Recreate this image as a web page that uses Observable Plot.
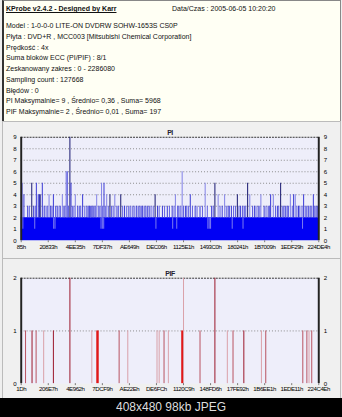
<!DOCTYPE html>
<html><head><meta charset="utf-8">
<script src="https://cdn.jsdelivr.net/npm/d3@7"></script>
<script src="https://cdn.jsdelivr.net/npm/@observablehq/plot@0.6"></script>
<style>
html,body{margin:0;padding:0;}
body{width:342px;height:417px;background:#efefef;position:relative;overflow:hidden;font-family:"Liberation Sans",Arial,sans-serif;}
#hdr{position:absolute;left:2px;top:0;width:336px;height:120px;background:#fffff4;border:1px solid #888;border-left:2px solid #333;}
.ln{position:absolute;font-size:7px;line-height:8px;white-space:nowrap;color:#111;}
.pan{position:absolute;left:2px;width:337px;border:1px solid #bbb;background:#f0f0f0;}
.pan svg{position:absolute;left:-2px;top:0;}
#foot{position:absolute;left:0;top:398px;width:342px;height:19px;background:#000;color:#ddd;font-size:12px;line-height:19px;text-align:center;}
</style></head>
<body>
<div id="hdr"></div>
<div class="pan" id="p1" style="top:121px;height:136px;"></div>
<div class="pan" id="p2" style="top:258px;height:139px;"></div>
<div id="foot"></div>
<script>
// ---- header info ----
const titleText = "KProbe v2.4.2 - Designed by Karr";
const dateText = "Data/Czas : 2005-06-05 10:20:20";
const infoLines = [
  "Model : 1-0-0-0 LITE-ON DVDRW SOHW-1653S CS0P",
  "Płyta : DVD+R , MCC003 [Mitsubishi Chemical Corporation]",
  "Prędkość : 4x",
  "Suma bloków ECC (PI/PIF) : 8/1",
  "Zeskanowany zakres : 0 - 2286080",
  "Sampling count : 127668",
  "Błędów : 0",
  "PI Maksymalnie= 9 , Średnio= 0,36 , Suma= 5968",
  "PIF Maksymalnie= 2 , Średnio= 0,01 , Suma= 197"
];
const footText = "408x480 98kb JPEG";

// ---- axis tick labels ----
const piTicks = ["85h","20833h","4EE35h","7DF37h","AE649h","DEC06h","1125E1h","1493C0h","180241h","1B7009h","1EDF29h","224DE4h"];
const pifTicks = ["1Dh","206E7h","4E962h","7DCF9h","AE22Eh","DE6FCh","1120C9h","148FD6h","17FE92h","1B6EE1h","1EDE11h","224C4Eh"];

// ---- PI data (position in tick-interval units 0..11) ----
const piBaseLevel = 2;
const piDipPos = [0.06, 0.5, 1.2, 1.25, 2.95, 3.0, 3.05, 4.98, 5.6, 5.75, 6.9, 6.95, 7.0, 7.8, 8.2, 10.4];
const piSpikePos = [0.04,0.10,0.24,0.39,0.46,0.56,0.63,0.68,0.70,0.78,0.85,1.03,1.09,1.19,1.33,1.52,1.58,1.66,1.70,1.80,1.84,2.00,2.09,2.27,2.43,2.52,2.61,2.69,2.79,2.91,2.97,3.06,3.16,3.28,3.46,3.54,3.68,3.82,3.98,4.13,4.27,4.39,4.49,4.61,4.73,4.95,5.04,5.22,5.40,5.58,5.70,5.83,5.95,6.07,6.25,6.43,6.61,6.80,7.04,7.16,7.28,7.43,7.52,7.65,7.77,7.99,8.11,8.19,8.37,8.45,8.62,8.76,8.86,8.98,9.13,9.22,9.32,9.47,9.59,9.71,9.83,9.95,10.07,10.13,10.25,10.44,10.56,10.68,10.80,10.90];
const piSpikeVal = [5,4,3,5,3,5,4,4,4,5,3,4,3,4,3,4,3,6,6,9,5,4,3,4,3,3,3,3,4,3,5,5,4,4,4,3,4,3,3,3,3,3,3,3,3,4,3,3,3,3,4,3,6,3,4,3,3,5,3,5,4,3,4,3,3,4,3,3,5,4,3,3,4,3,3,4,4,3,5,3,3,4,4,4,3,4,3,3,4,3];
const piSpikeTone = "lmmdmmmmdmmlmmmlmlmdmlmmmmmmlmlmldlmdmmmmmmmmdmmmmlmlmmmmlmdlmlmmdmmdlmmlmmmlmdmmlmlmmmmm";
const piSmallPos = [0.30,0.52,0.92,0.98,1.14,1.27,1.40,1.45,1.62,1.75,1.90,1.95,2.15,2.20,2.35,2.48,2.56,2.65,2.74,2.85,3.01,3.11,3.22,3.34,3.40,3.60,3.75,3.90,4.05,4.20,4.33,4.44,4.55,4.67,4.80,4.88,5.10,5.30,5.48,5.65,5.78,5.90,6.00,6.12,6.18,6.33,6.50,6.70,6.88,7.10,7.35,7.58,7.70,7.85,7.92,8.05,8.25,8.30,8.55,8.68,8.82,9.05,9.18,9.40,9.52,9.65,9.77,9.88,10.02,10.19,10.30,10.38,10.50,10.62,10.74,10.85,10.95];
const piSmallVal = 3;

// ---- PIF data ----
const pifPos = [0.16,0.40,0.55,0.83,1.19,1.80,2.61,2.82,3.62,3.94,5.02,5.10,5.28,5.44,5.96,6.00,6.61,7.16,7.62,7.83,8.23,8.88,9.04,10.41,10.56,10.64,10.74];
const pifVal = [1,1,1,1,1,2,1,1,1,1,1,1,1,1,1,2,1,2,1,1,1,1,1,1,1,1,1];
const pifTone = "mdmlddlbmlllmlblmdlmdlmmmlm";

// ---- build header ----
const hdr = document.getElementById("hdr");
function addLine(txt, x, y, extra){
  const d = document.createElement("div");
  d.className = "ln"; d.textContent = txt;
  d.style.left = x + "px"; d.style.top = (y - 4) + "px";
  if (extra) Object.assign(d.style, extra);
  hdr.appendChild(d);
}
addLine(titleText, 2, 8, {fontWeight:"bold", textDecoration:"underline"});
addLine(dateText, 168, 8);
infoLines.forEach((t, i) => addLine(t, 2, 25 + i * 10.75));
document.getElementById("foot").textContent = footText;

// ---- charts ----
const toneBlue = {l:"#8080e6", m:"#3838d4", d:"#14146e"};
const toneRed = {l:"#d9a0a8", m:"#b8505e", d:"#9a1428", b:"#e01818"};
const toneRedW = {l:1, m:1, d:1, b:2.5};
const tickFont = "'Liberation Sans', Arial, sans-serif";

function chart({h, mt, mb, ymax, ticks, title, dataMarks}){
  return Plot.plot({
    width: 342, height: h,
    marginLeft: 20, marginRight: 20, marginTop: mt, marginBottom: mb,
    style: {background: "transparent", fontFamily: tickFont, fontSize: "6.2px", letterSpacing: "-0.45px", color: "#000", overflow: "visible"},
    x: {domain: [0, 11], axis: null},
    y: {domain: [0, ymax], axis: null},
    marks: [
      Plot.frame({fill: "#eeeefa", stroke: null}),
      Plot.ruleY(d3.range(1, ymax), {stroke: "#8a8a8a", strokeDasharray: "1,2"}),
      Plot.ruleY([ymax], {stroke: "#333", strokeDasharray: "2,1"}),
      ...dataMarks,
      Plot.ruleX([0], {stroke: "#222", strokeWidth: 2}),
      Plot.ruleX([11], {stroke: "#222", strokeWidth: 2}),
      Plot.axisX({ticks: d3.range(12), tickFormat: i => ticks[i], tickSize: 2, tickPadding: 1.5, fontSize: 6.2, stroke: "#777", fill: "#000", label: null}),
      Plot.axisY({anchor: "left", ticks: d3.range(ymax + 1), tickFormat: d => d, tickSize: 0, tickPadding: 5, fontSize: 6.2, fill: "#000", label: null}),
      Plot.axisY({anchor: "right", ticks: d3.range(ymax + 1), tickFormat: d => d, tickSize: 0, tickPadding: 5, fontSize: 6.2, fill: "#000", label: null}),
      Plot.text([title], {frameAnchor: "top", dy: -7, fontWeight: "bold", fontSize: 7, fill: "#223"})
    ]
  });
}

const piSpikes = piSpikePos.map((p, i) => ({x: p, y: piSpikeVal[i], t: piSpikeTone[i] || "m"}));
const piSmall = piSmallPos.map(p => ({x: p, y: piSmallVal}));
const piDips = piDipPos.map(p => ({x: p}));
const pi = chart({
  h: 136, mt: 15, mb: 16, ymax: 9, ticks: piTicks, title: "PI",
  dataMarks: [
    Plot.rectY([{x1: 0, x2: 11, y: piBaseLevel}], {x1: "x1", x2: "x2", y: "y", fill: "#0000f4"}),
    Plot.ruleX(piDips, {x: "x", y1: 1, y2: piBaseLevel, stroke: "#7c7cf0"}),
    Plot.ruleX(piSmall, {x: "x", y1: piBaseLevel, y2: "y", stroke: "#5e5ee0"}),
    Plot.ruleX(piSpikes, {x: "x", y1: piBaseLevel, y2: "y", stroke: d => toneBlue[d.t]})
  ]
});
document.getElementById("p1").appendChild(pi);

const pifBars = pifPos.map((p, i) => ({x: p, y: pifVal[i], t: pifTone[i] || "m"}));
const pif = chart({
  h: 139, mt: 19, mb: 13, ymax: 2, ticks: pifTicks, title: "PIF",
  dataMarks: [
    Plot.ruleX(pifBars, {x: "x", y1: 0, y2: "y", stroke: d => toneRed[d.t], strokeWidth: d => toneRedW[d.t]})
  ]
});
document.getElementById("p2").appendChild(pif);
</script>
</body></html>
